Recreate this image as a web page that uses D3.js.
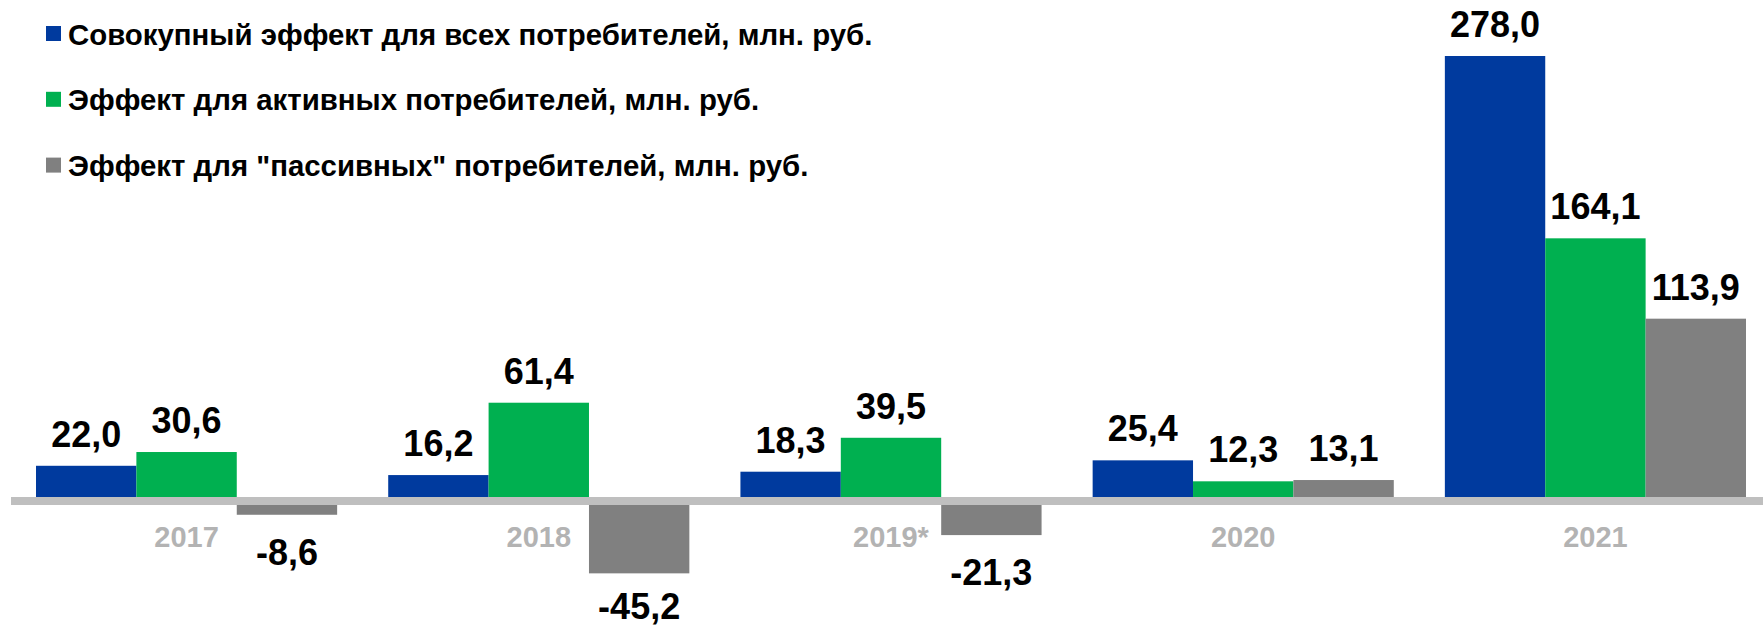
<!DOCTYPE html>
<html>
<head>
<meta charset="utf-8">
<script src="https://cdn.jsdelivr.net/npm/d3@7"></script>
<style>
  html, body { margin: 0; padding: 0; background: #fff; }
  svg { display: block; font-family: "Liberation Sans", Arial, sans-serif; font-weight: bold; }
</style>
</head>
<body>
<svg id="chart" width="1763" height="626"></svg>
<script>
// values, млн. руб.
const years = ["2017", "2018", "2019*", "2020", "2021"]
const seriesNames = [
  "Совокупный эффект для всех потребителей, млн. руб.",
  "Эффект для активных потребителей, млн. руб.",
  "Эффект для \"пассивных\" потребителей, млн. руб."
]
const totalEffect   = [22.0, 16.2, 18.3, 25.4, 278.0]
const activeEffect  = [30.6, 61.4, 39.5, 12.3, 164.1]
const passiveEffect = [-8.6, -45.2, -21.3, 13.1, 113.9]
const colors = ["#003a9e", "#00b050", "#808080"]

const W = 1763, H = 626
const svg = d3.select("#chart")

const series = [totalEffect, activeEffect, passiveEffect]
const keys = d3.range(series.length)

// zero line sits at y=501, 278 reaches y=56
const y = d3.scaleLinear().domain([0, 278]).range([501, 56])

const x0 = d3.scaleBand().domain(years).range([36, 1746]).paddingInner(0.145)
const x1 = d3.scaleBand().domain(keys).range([0, x0.bandwidth()])

const fmt = v => d3.format(".1f")(v).replace(".", ",").replace("−", "-")

const groups = svg.append("g").selectAll("g")
  .data(years)
  .join("g")
  .attr("transform", d => `translate(${x0(d)},0)`)

groups.selectAll("rect")
  .data((d, i) => keys.map(k => ({ k, v: series[k][i] })))
  .join("rect")
  .attr("x", d => x1(d.k))
  .attr("width", x1.bandwidth())
  .attr("y", d => y(Math.max(0, d.v)))
  .attr("height", d => Math.abs(y(d.v) - y(0)))
  .attr("fill", d => colors[d.k])

// baseline band drawn over the bars
svg.append("line")
  .attr("x1", 11).attr("x2", W)
  .attr("y1", y(0)).attr("y2", y(0))
  .attr("stroke", "#bfbfbf")
  .attr("stroke-width", 8)

// year labels under the axis
svg.append("g").selectAll("text")
  .data(years)
  .join("text")
  .attr("x", d => x0(d) + x0.bandwidth() / 2)
  .attr("y", 547)
  .attr("text-anchor", "middle")
  .attr("font-size", 29)
  .attr("fill", "#b3b3b3")
  .text(d => d)

// value labels
groups.selectAll("text.val")
  .data((d, i) => keys.map(k => ({ k, v: series[k][i] })))
  .join("text")
  .attr("class", "val")
  .attr("x", d => x1(d.k) + x1.bandwidth() / 2)
  .attr("y", d => d.v >= 0 ? y(d.v) - 19 : Math.min(y(d.v) + 50, H - 7))
  .attr("text-anchor", "middle")
  .attr("font-size", 36)
  .attr("fill", "#000")
  .text(d => fmt(d.v))

// legend
const legend = svg.append("g").selectAll("g")
  .data(seriesNames)
  .join("g")
  .attr("transform", (d, i) => `translate(46,${33.5 + i * 65.8})`)

legend.append("rect")
  .attr("x", 0).attr("y", -7.5)
  .attr("width", 15).attr("height", 15)
  .attr("fill", (d, i) => colors[i])

legend.append("text")
  .attr("x", 22)
  .attr("y", 11)
  .attr("font-size", 29.4)
  .attr("fill", "#000")
  .text(d => d)
</script>
</body>
</html>
